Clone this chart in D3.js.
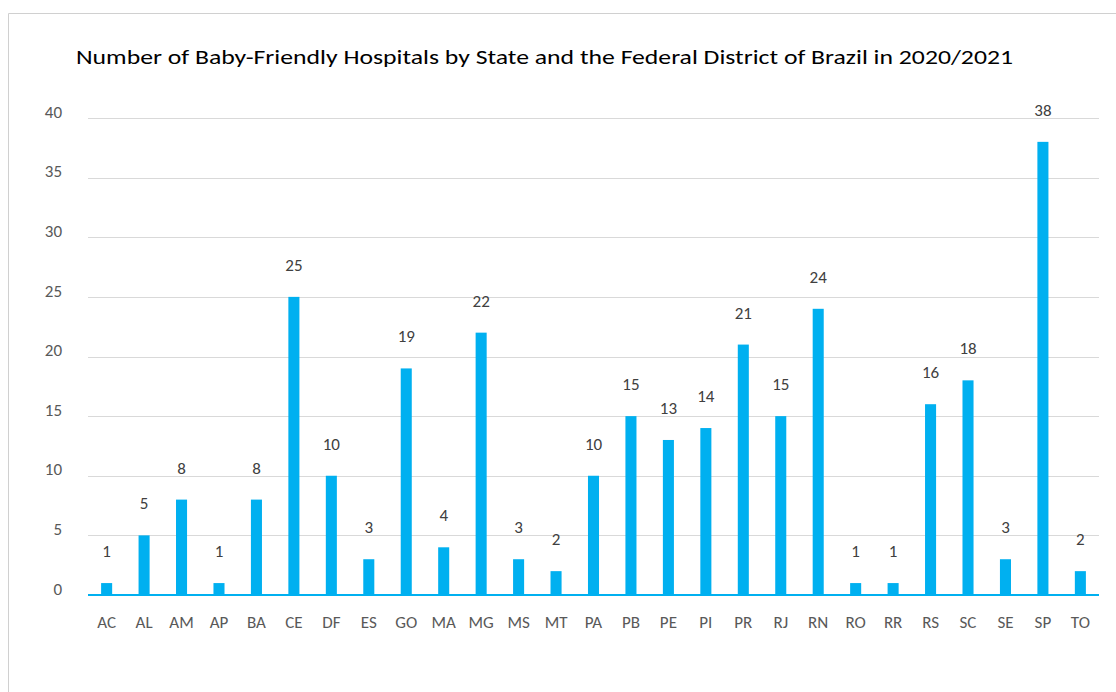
<!DOCTYPE html>
<html><head><meta charset="utf-8">
<script src="https://cdn.jsdelivr.net/npm/d3@7"></script>
<style>
html,body{margin:0;padding:0;background:#fff;}
text{font-family:Carlito,Lato,"Open Sans","Noto Sans",sans-serif;}
</style></head>
<body><svg id="c" width="1116" height="692"></svg>
<script>
const categories = ["AC","AL","AM","AP","BA","CE","DF","ES","GO","MA","MG","MS","MT","PA","PB","PE","PI","PR","RJ","RN","RO","RR","RS","SC","SE","SP","TO"];
const values = [1,5,8,1,8,25,10,3,19,4,22,3,2,10,15,13,14,21,15,24,1,1,16,18,3,38,2];
const yTicks = [0,5,10,15,20,25,30,35,40];
const title = "Number of Baby-Friendly Hospitals by State and the Federal District of Brazil in 2020/2021";

const svg = d3.select("#c");
// chart border
svg.append("path").attr("d","M8.5,700 V13.5 H1120").attr("fill","none").attr("stroke","#d0d0d0").attr("stroke-width",1);

const pLeft = 88, pRight = 1099, pTop = 118, pBottom = 595;
const x = d3.scaleBand().domain(categories).range([pLeft,pRight]).paddingInner(0.705).paddingOuter(0.35);
const y = d3.scaleLinear().domain([0,40]).range([pBottom,pTop]);

svg.append("text").attr("x",76).attr("y",64).attr("font-size",21).attr("fill","#000")
  .attr("textLength",937).attr("lengthAdjust","spacingAndGlyphs").text(title);

// gridlines
svg.append("g").selectAll("line").data(yTicks.filter(d=>d>0)).join("line")
  .attr("x1",pLeft).attr("x2",pRight).attr("y1",d=>Math.round(y(d))+0.5).attr("y2",d=>Math.round(y(d))+0.5)
  .attr("stroke","#d9d9d9").attr("stroke-width",1);

// y tick labels
svg.append("g").selectAll("text").data(yTicks).join("text")
  .attr("x",62).attr("y",d=>y(d)).attr("dy","-0.02em").attr("text-anchor","end")
  .attr("font-size",17).attr("fill","#595959").text(d=>d);

// bars
svg.append("g").selectAll("rect").data(values).join("rect")
  .attr("x",(d,i)=>x(categories[i])).attr("width",x.bandwidth())
  .attr("y",d=>y(d)).attr("height",d=>y(0)-y(d)).attr("fill","#00b0f0");

// baseline
svg.append("line").attr("x1",pLeft).attr("x2",pRight).attr("y1",y(0)).attr("y2",y(0))
  .attr("stroke","#00b0f0").attr("stroke-width",2);

// value labels
svg.append("g").selectAll("text").data(values).join("text")
  .attr("x",(d,i)=>x(categories[i])+x.bandwidth()/2).attr("y",d=>y(d)-26)
  .attr("text-anchor","middle").attr("font-size",17).attr("fill","#404040").text(d=>d);

// x labels
svg.append("g").selectAll("text").data(categories).join("text")
  .attr("x",d=>x(d)+x.bandwidth()/2).attr("y",628)
  .attr("text-anchor","middle").attr("font-size",17).attr("fill","#595959").text(d=>d);
</script></body></html>
